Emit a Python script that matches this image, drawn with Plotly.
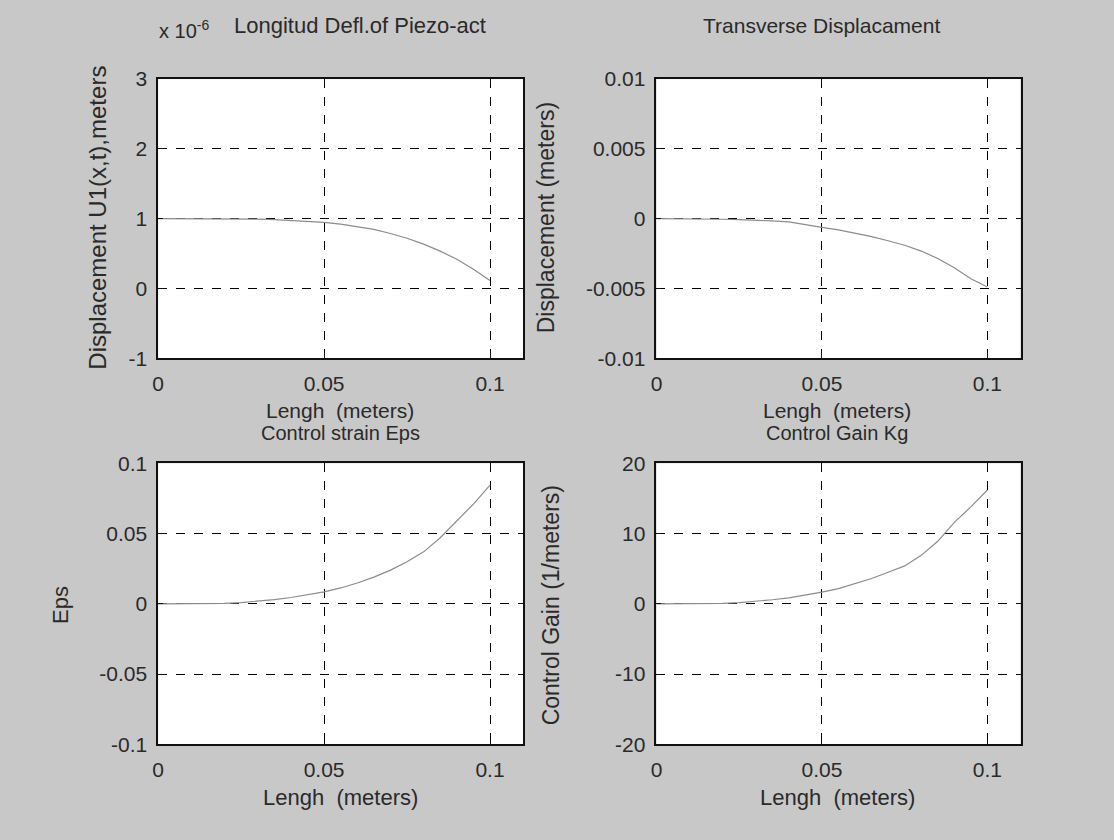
import plotly.graph_objects as go

# Beam position along the actuator (meters)
length_m = [0.0, 0.005, 0.01, 0.015, 0.02, 0.025, 0.03, 0.035, 0.04, 0.045, 0.05,
            0.055, 0.06, 0.065, 0.07, 0.075, 0.08, 0.085, 0.09, 0.095, 0.1]

# Longitudinal deflection of the piezo actuator (x 1e-6 m)
u1_e6 = [1.0, 1.0, 1.0, 1.0, 0.999, 0.997, 0.993, 0.987, 0.977, 0.963, 0.948,
         0.922, 0.888, 0.846, 0.788, 0.72, 0.636, 0.535, 0.418, 0.277, 0.115]

# Transverse displacement (m)
w_disp = [0.0, 0.0, -0.00001, -0.00002, -0.00004, -0.00007, -0.0001, -0.00016,
          -0.00023, -0.00045, -0.00062, -0.0008, -0.00102, -0.00128, -0.00158,
          -0.0019, -0.00232, -0.00285, -0.00352, -0.0043, -0.0049]

# Control strain
eps_ctrl = [0.0, 0.0, 0.0, 0.0001, 0.0004, 0.0009, 0.0018, 0.003, 0.0045, 0.0064,
            0.0085, 0.0113, 0.0148, 0.019, 0.024, 0.03, 0.037, 0.047, 0.0587,
            0.071, 0.0845]

# Control gain (1/m)
kg_ctrl = [0.0, 0.0, 0.0, 0.02, 0.08, 0.17, 0.35, 0.58, 0.86, 1.23, 1.67, 2.17,
           2.84, 3.6, 4.5, 5.4, 6.9, 8.9, 11.6, 13.8, 16.2]

x_ticks = [0, 0.05, 0.1]
x_tick_text = ["0", "0.05", "0.1"]
u1_ticks = [-1, 0, 1, 2, 3]
w_ticks = [-0.01, -0.005, 0, 0.005, 0.01]
w_tick_text = ["-0.01", "-0.005", "0", "0.005", "0.01"]
eps_ticks = [-0.1, -0.05, 0, 0.05, 0.1]
eps_tick_text = ["-0.1", "-0.05", "0", "0.05", "0.1"]
kg_ticks = [-20, -10, 0, 10, 20]

W, H = 1114, 840
FONT = "Liberation Sans, Arial, sans-serif"
TXT = "#2a2a2a"
BG = "#c8c8c8"
CURVE = "#8c8c8c"


def px_x(p):
    return p / W


def px_y(p):
    return 1 - p / H


col_left = [px_x(153), px_x(520)]
col_right = [px_x(654), px_x(1020)]
row_top = [px_y(356), px_y(69)]
row_bot = [px_y(753), px_y(464)]

fig = go.Figure()

panels = [
    ("x", "y", u1_e6, col_left, row_top, [-1, 3], u1_ticks, [str(t) for t in u1_ticks]),
    ("x2", "y2", w_disp, col_right, row_top, [-0.01, 0.01], w_ticks, w_tick_text),
    ("x3", "y3", eps_ctrl, col_left, row_bot, [-0.1, 0.1], eps_ticks, eps_tick_text),
    ("x4", "y4", kg_ctrl, col_right, row_bot, [-20, 20], kg_ticks, [str(t) for t in kg_ticks]),
]

for xa, ya, vals, xdom, ydom, yr, yt, ytt in panels:
    fig.add_trace(go.Scatter(x=length_m, y=vals, xaxis=xa, yaxis=ya, mode="lines",
                             line=dict(color=CURVE, width=1.2), showlegend=False,
                             hoverinfo="skip"))
    xkey = "xaxis" if xa == "x" else "xaxis" + xa[1:]
    ykey = "yaxis" if ya == "y" else "yaxis" + ya[1:]
    common = dict(showline=True, linecolor="#111", linewidth=1.6, mirror="ticks",
                  ticks="inside", ticklen=5, tickcolor="#111", tickwidth=1,
                  showgrid=True, gridcolor="#000", gridwidth=1.3, griddash="dash",
                  zeroline=False, tickfont=dict(family=FONT, size=21, color=TXT))
    fig.update_layout(**{
        xkey: dict(domain=xdom, range=[0, 0.11], anchor=ya, tickvals=x_ticks,
                   ticktext=x_tick_text, ticklabelstandoff=6, **common),
        ykey: dict(domain=ydom, range=yr, anchor=xa, tickvals=yt, ticktext=ytt,
                   ticklabelstandoff=5, **common),
    })

annots = []


def label(text, x, y, size=21, angle=0, xanchor="center"):
    annots.append(dict(text=text, x=px_x(x), y=px_y(y), xref="paper", yref="paper",
                       showarrow=False, textangle=angle, xanchor=xanchor,
                       yanchor="middle",
                       font=dict(family=FONT, size=size, color=TXT)))


# Titles
label("x 10<sup>-6</sup>", 152, 18, size=20, xanchor="left")
label("Longitud Defl.of Piezo-act", 356, 14, size=22)
label("Transverse Displacament", 820, 14, size=21)
label("Control strain Eps", 336, 433, size=20)
label("Control Gain Kg", 836, 433, size=20)

# x labels
label("Lengh  (meters)", 336, 410, size=21)
label("Lengh  (meters)", 836, 410, size=21)
label("Lengh  (meters)", 336, 808, size=22)
label("Lengh  (meters)", 836, 808, size=22)

# y labels
label("Displacement U1(x,t),meters", 92, 212, size=24, angle=-90)
label("Displacement (meters)", 543, 212, size=23, angle=-90)
label("Eps", 55, 610, size=22, angle=-90)
label("Control Gain (1/meters)", 548, 610, size=23, angle=-90)

fig.update_layout(
    width=W, height=H, margin=dict(l=0, r=0, t=0, b=0),
    paper_bgcolor=BG, plot_bgcolor="white", annotations=annots,
)

fig.write_html("out.html")
